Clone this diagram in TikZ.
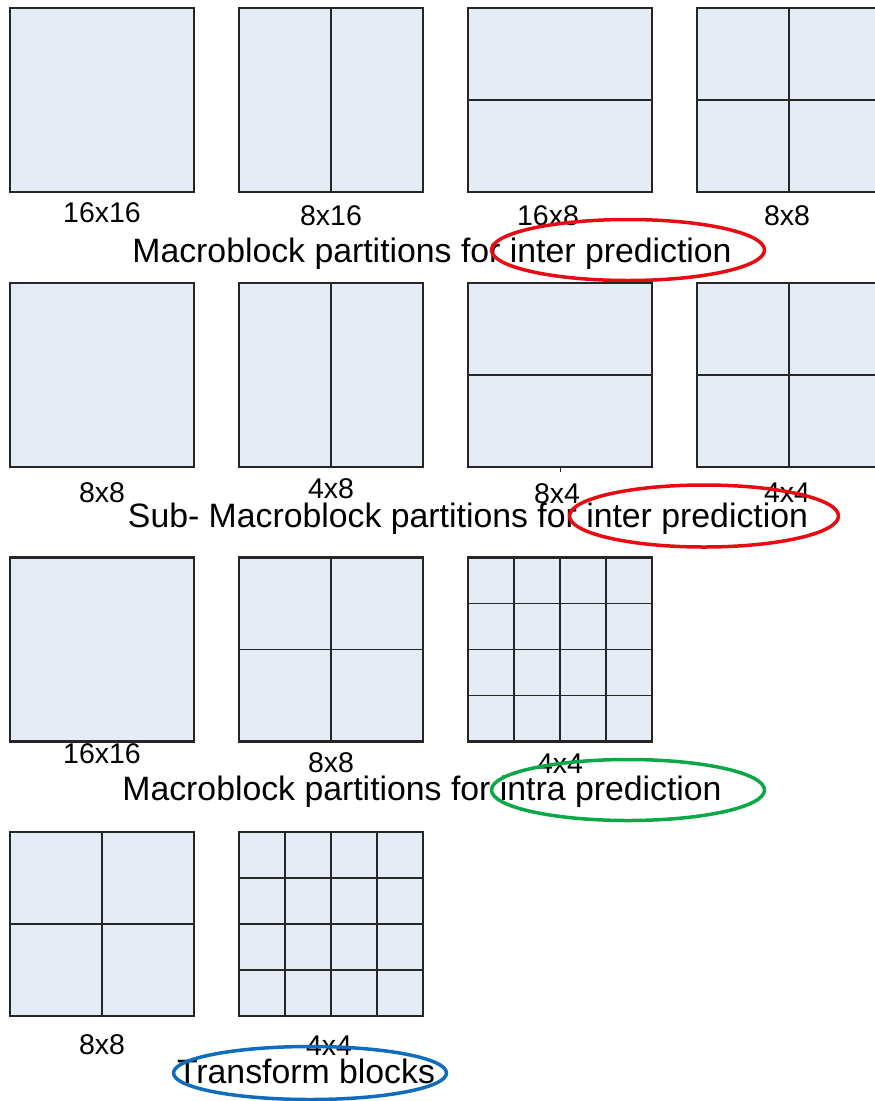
\documentclass[tikz,border=0pt]{standalone}
\usepackage{fontspec}
\setmainfont{Liberation Sans}
\usepackage{tikz}
\usetikzlibrary{calc,positioning,shapes}

\definecolor{blockfill}{RGB}{230,236,246}
\definecolor{markred}{RGB}{232,12,18}
\definecolor{markgreen}{RGB}{12,168,72}
\definecolor{markblue}{RGB}{16,108,188}

\begin{document}
\begin{tikzpicture}[x=1pt,y=-1pt,
	blk/.style={draw=black!85,line width=2.2pt,fill=blockfill,minimum size=184pt,inner sep=0,outer sep=0},
	cut/.style={draw=black!85,line width=1.7pt},
	size/.style={inner sep=0,font=\fontsize{28.5}{30}\selectfont},
	capt/.style={inner sep=0,anchor=base,font=\fontsize{33.8}{36}\selectfont},
	hilite/.style={ellipse,line width=3.5pt,inner sep=0,minimum width=273pt,minimum height=61pt}]
	\useasboundingbox (0,0) rectangle (875,1101);
	% row 1
	\node(1a) [blk,anchor=north west] at (10,8) {};
	\node(1b) [blk,right=45pt of 1a] {};
	\node(1c) [blk,right=45pt of 1b] {};
	\node(1d) [blk,right=45pt of 1c] {};
	\draw[cut] (1b.north) -- (1b.south);
	\draw[cut] (1c.west) -- (1c.east);
	\draw[cut] (1d.north) -- (1d.south);
	\draw[cut] (1d.west) -- (1d.east);
	\node(s1a) [size,below=10pt of 1a] {16x16};
	\node(s1b) [size,below=13pt of 1b] {8x16};
	\node(s1c) [size,below=13pt of 1c,xshift=-12pt] {16x8};
	\node(s1d) [size,below=13pt of 1d,xshift=-2pt] {8x8};
	\node(c1) [capt] at (432,262) {Macroblock partitions for inter prediction};
	\node(e1) [hilite,draw=markred] at (628,250) {};
	% row 2
	\node(2a) [blk,below=90.7pt of 1a] {};
	\node(2b) [blk,right=45pt of 2a] {};
	\node(2c) [blk,right=45pt of 2b] {};
	\node(2d) [blk,right=45pt of 2c] {};
	\draw[cut] (2b.north) -- (2b.south);
	\draw[cut] (2c.west) -- (2c.east);
	\draw[cut] (2d.north) -- (2d.south);
	\draw[cut] (2d.west) -- (2d.east);
	\draw[cut,line width=1pt] (2c.south) -- ++(0,5);
	\node(s2a) [size,below=16pt of 2a] {8x8};
	\node(s2b) [size,below=12pt of 2b] {4x8};
	\node(s2c) [size,below=17pt of 2c,xshift=-3pt] {8x4};
	\node(s2d) [size,below=16pt of 2d,xshift=-2pt] {4x4};
	\node(c2) [capt] at (468,527) {Sub- Macroblock partitions for inter prediction};
	\node(e2) [hilite,draw=markred,minimum width=269pt,minimum height=62pt] at (704,516) {};
	% row 3
	\node(3a) [blk,below=90.7pt of 2a] {};
	\node(3b) [blk,right=45pt of 3a] {};
	\node(3c) [blk,right=45pt of 3b] {};
	\draw[cut] (3b.north) -- (3b.south);
	\draw[cut] (3b.west) -- (3b.east);
	\foreach \f in {0.25,0.5,0.75} {
		\draw[cut] ($(3c.north west)!\f!(3c.north east)$) -- ($(3c.south west)!\f!(3c.south east)$);
		\draw[cut] ($(3c.north west)!\f!(3c.south west)$) -- ($(3c.north east)!\f!(3c.south east)$);
	}
	\node(s3a) [size,below=2pt of 3a] {16x16};
	\node(s3b) [size,below=11pt of 3b] {8x8};
	\node(s3c) [size,below=12pt of 3c] {4x4};
	\node(c3) [capt] at (422,800) {Macroblock partitions for intra prediction};
	\node(e3) [hilite,draw=markgreen] at (628,790) {};
	% row 4
	\node(4a) [blk,below=90.7pt of 3a] {};
	\node(4b) [blk,right=45pt of 4a] {};
	\draw[cut] (4a.north) -- (4a.south);
	\draw[cut] (4a.west) -- (4a.east);
	\foreach \f in {0.25,0.5,0.75} {
		\draw[cut] ($(4b.north west)!\f!(4b.north east)$) -- ($(4b.south west)!\f!(4b.south east)$);
		\draw[cut] ($(4b.north west)!\f!(4b.south west)$) -- ($(4b.north east)!\f!(4b.south east)$);
	}
	\node(s4a) [size,below=18pt of 4a] {8x8};
	\node(s4b) [size,below=20pt of 4b,xshift=-2pt] {4x4};
	\node(c4) [capt] at (306,1083) {Transform blocks};
	\node(e4) [hilite,draw=markblue,minimum height=53pt] at (310,1073) {};
\end{tikzpicture}
\end{document}
